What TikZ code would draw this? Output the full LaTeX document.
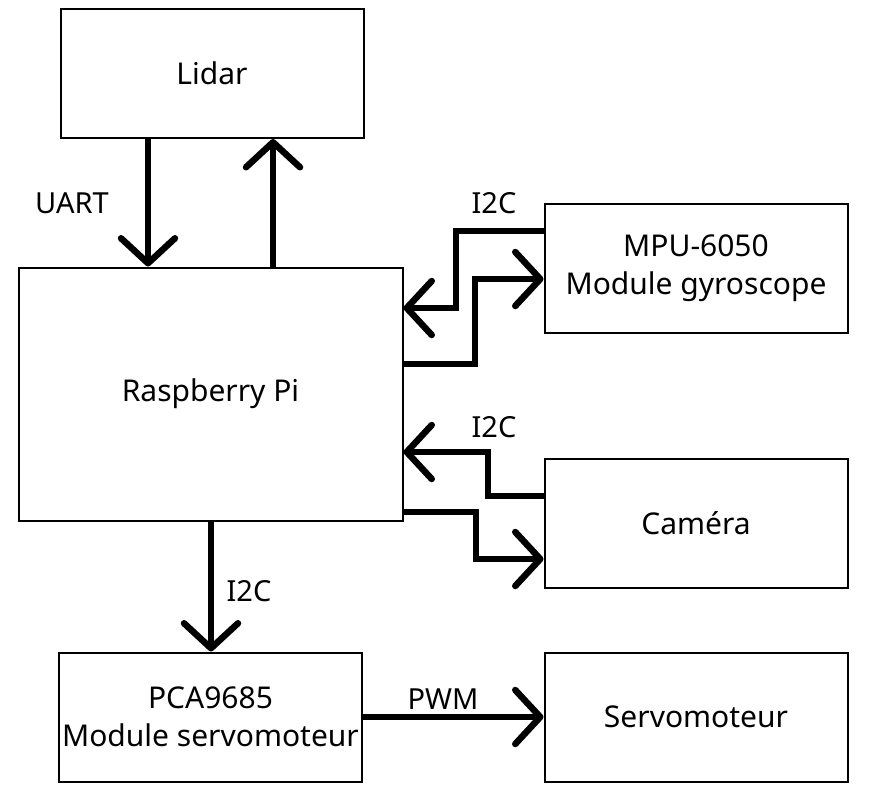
\documentclass[tikz,border=0pt]{standalone}
\usepackage{fontspec}
\setmainfont{Noto Sans}
\usetikzlibrary{arrows.meta}

\begin{document}
\begin{tikzpicture}[x=1pt,y=-1pt,
  bloc/.style={draw,line width=2pt,minimum width=303pt,minimum height=129pt,align=center,inner sep=0pt,font=\fontsize{30}{38}\selectfont},
  lien/.style={line width=6.5pt,-{Straight Barb[length=25pt,width=54pt,round]}},
  bus/.style={font=\fontsize{29}{38}\selectfont}]
\useasboundingbox (0,0) rectangle (872,800);

\node[bloc] (lidar) at (212,73.5) {Lidar};
\node[bloc,minimum width=384pt,minimum height=253pt] (pi) at (210.5,394) {Raspberry Pi};
\node[bloc] (mpu) at (696,268.5) {MPU-6050\\Module gyroscope};
\node[bloc] (camera) at (696,523) {Caméra};
\node[bloc] (pca) at (210.5,717) {PCA9685\\Module servomoteur};
\node[bloc] (servo) at (696,717) {Servomoteur};

\draw[lien] (lidar.south -| 148,0) -- (pi.north -| 148,0);
\draw[lien] (pi.north -| 273,0) -- (lidar.south -| 273,0);

\draw[lien] (mpu.west |- 0,231) -| (456,308) -- (pi.east |- 0,308);
\draw[lien] (pi.east |- 0,364) -| (475,279) -- (mpu.west |- 0,279);

\draw[lien] (camera.west |- 0,496) -| (488,452) -- (pi.east |- 0,452);
\draw[lien] (pi.east |- 0,512) -| (476,559) -- (camera.west |- 0,559);

\draw[lien] (pi.south -| 211,0) -- (pca.north -| 211,0);
\draw[lien] (pca.east |- 0,717) -- (servo.west |- 0,717);

\node[bus] (uart) at (72,203) {UART};
\node[bus] (i2cmpu) at (494,203) {I2C};
\node[bus] (i2ccam) at (494,427) {I2C};
\node[bus] (i2cpca) at (249,591) {I2C};
\node[bus] (pwm) at (443,699) {PWM};
\end{tikzpicture}
\end{document}
